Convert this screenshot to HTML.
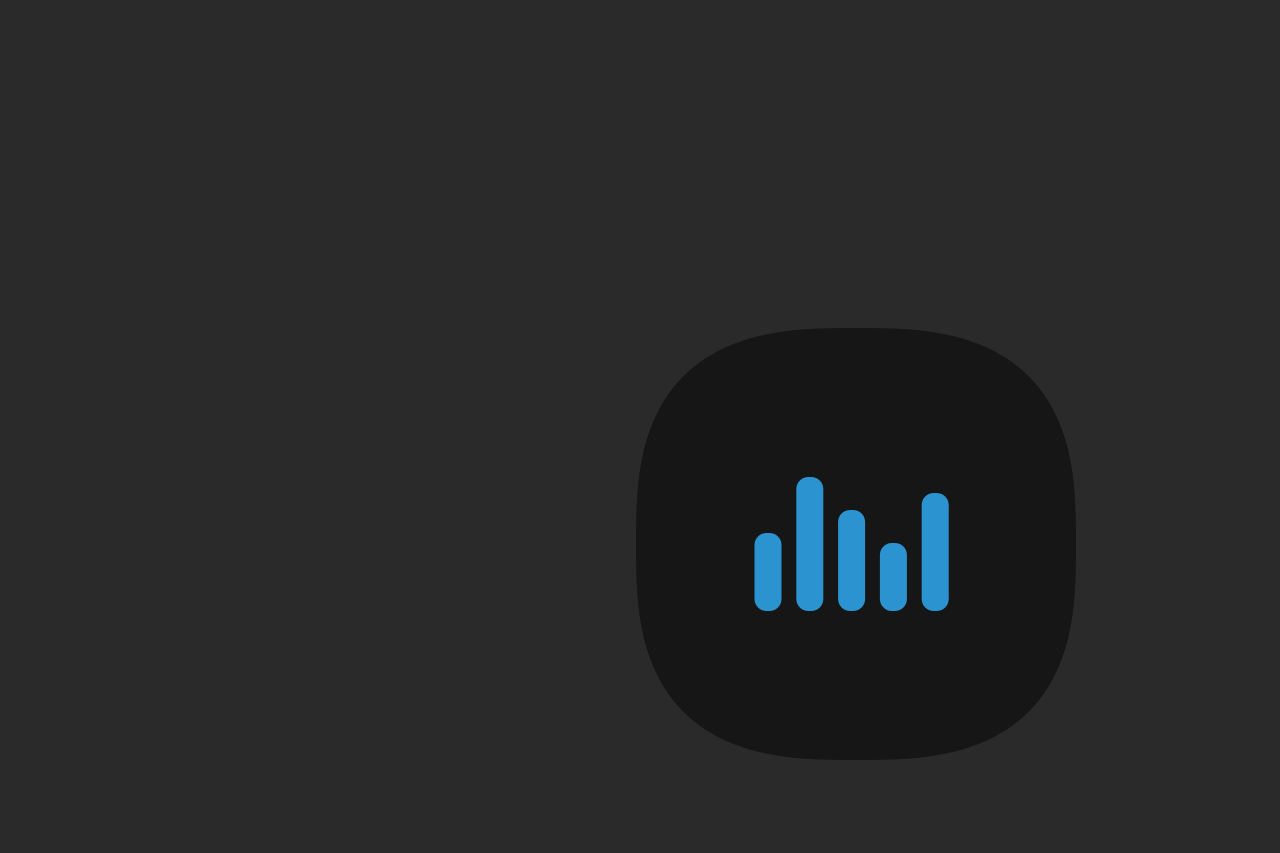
<!DOCTYPE html>
<html><head><meta charset="utf-8"><style>
html,body{margin:0;padding:0;background:#2a2a2a;width:1280px;height:853px;overflow:hidden}
</style></head><body>
<svg width="1280" height="853">
<rect width="1280" height="853" fill="#2a2a2a"/>
<path id="squircle" fill="#161616"/>
<g id="bars"></g>
</svg>
<script>
const categories = ["b1","b2","b3","b4","b5"];
const values = [78, 134, 101, 68, 118];
const yMax = 134;

(function(){
  const cx=856, cy=544, a=220, b=216, n=2.8;
  let d="";
  for(let i=0;i<=360;i++){
    const t=i/360*2*Math.PI, c=Math.cos(t), s=Math.sin(t);
    const x=cx+a*Math.sign(c)*Math.pow(Math.abs(c),2/n);
    const y=cy+b*Math.sign(s)*Math.pow(Math.abs(s),2/n);
    d+=(i?"L":"M")+x.toFixed(1)+","+y.toFixed(1);
  }
  document.getElementById('squircle').setAttribute('d',d+"Z");
})();

const x0=768, step=41.8, bw=27, base=611, hMax=134;
function xs(i){return x0+i*step;}
function ys(v){return base - v/yMax*hMax;}
const g=document.getElementById('bars');
values.forEach((v,i)=>{
  const r=document.createElementNS("http://www.w3.org/2000/svg","rect");
  
  
  const top=ys(v);
  r.setAttribute('x',xs(i)-bw/2);
  r.setAttribute('y',top);
  r.setAttribute('width',bw);
  r.setAttribute('height',base-top);
  r.setAttribute('rx',12);
  r.setAttribute('fill','#2b94d0');
  g.appendChild(r);
});
</script>
</body></html>
